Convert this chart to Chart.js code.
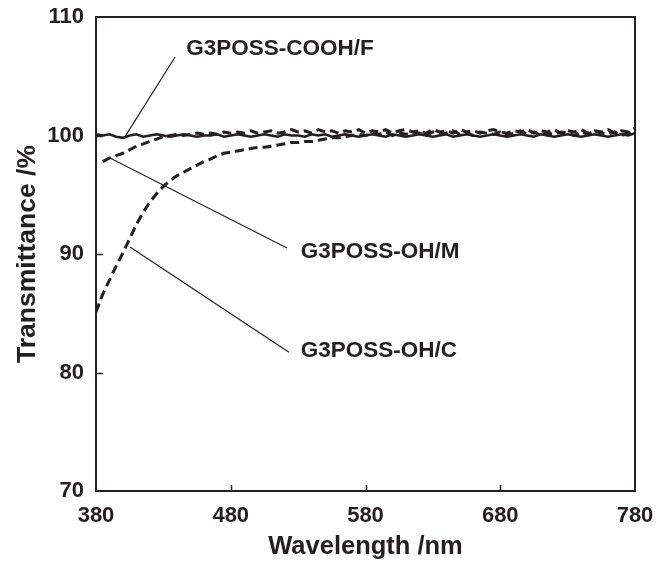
<!DOCTYPE html>
<html>
<head>
<meta charset="utf-8">
<script src="https://cdn.jsdelivr.net/npm/chart.js@4.4.1/dist/chart.umd.min.js"></script>
<style>
  html, body { margin: 0; padding: 0; background: #fff; }
  #chart { display: block; }
</style>
</head>
<body>
<canvas id="chart" width="656" height="562"></canvas>
<script>
// Wavelength grid (nm) shared by the three spectra
const wavelengths = [
  380, 385, 390, 395, 400, 405, 410, 415, 420, 425, 430, 435, 440, 445, 450, 455, 460, 465, 470, 475,
  480, 485, 490, 495, 500, 505, 510, 515, 520, 525, 530, 535, 540, 545, 550, 555, 560, 565, 570, 575,
  580, 585, 590, 595, 600, 605, 610, 615, 620, 625, 630, 635, 640, 645, 650, 655, 660, 665, 670, 675,
  680, 685, 690, 695, 700, 705, 710, 715, 720, 725, 730, 735, 740, 745, 750, 755, 760, 765, 770, 775,
  780
];

// G3POSS-COOH/F (solid)
const transF = [
  100.1, 100.0, 100.1, 99.9, 99.8, 100.0, 100.1, 99.9, 100.0, 100.1, 100.0, 99.9, 100.0, 100.1, 100.0, 99.9, 100.0, 100.0, 100.1, 99.9,
  100.0, 100.1, 100.0, 99.9, 100.0, 100.1, 100.0, 99.9, 100.1, 100.0, 100.0, 99.9, 100.1, 100.0, 100.1, 99.9, 100.0, 100.1, 100.0, 99.9,
  100.0, 100.1, 100.0, 99.9, 100.1, 100.0, 99.9, 100.0, 100.1, 100.0, 99.9, 100.0, 100.1, 99.9, 100.0, 100.1, 100.0, 99.9, 100.0, 100.1,
  100.0, 99.9, 100.0, 100.1, 100.0, 99.9, 100.1, 100.0, 99.9, 100.0, 100.1, 100.0, 99.9, 100.0, 100.1, 100.0, 99.9, 100.0, 100.1, 100.0,
  100.2
];

// G3POSS-OH/M (dashed), no reading at 380 nm
const transM = [
  null, 97.8, 98.1, 98.3, 98.5, 98.8, 99.1, 99.3, 99.5, 99.7, 99.9, 100.0, 100.1, 100.0, 100.1, 100.2, 100.1, 100.2, 100.1, 100.3,
  100.2, 100.3, 100.2, 100.4, 100.2, 100.3, 100.4, 100.2, 100.3, 100.5, 100.3, 100.4, 100.2, 100.5, 100.3, 100.4, 100.2, 100.4, 100.3, 100.5,
  100.2, 100.4, 100.3, 100.5, 100.2, 100.4, 100.5, 100.3, 100.4, 100.2, 100.5, 100.3, 100.4, 100.2, 100.5, 100.3, 100.4, 100.2, 100.4, 100.5,
  100.3, 100.2, 100.4, 100.3, 100.5, 100.2, 100.4, 100.3, 100.5, 100.2, 100.4, 100.3, 100.5, 100.2, 100.4, 100.3, 100.5, 100.2, 100.4, 100.3,
  100.6
];

// G3POSS-OH/C (dashed)
const transC = [
  85.1, 86.6, 87.8, 89.0, 90.1, 91.3, 92.5, 93.5, 94.4, 95.1, 95.7, 96.2, 96.6, 96.9, 97.2, 97.5, 97.8, 98.0, 98.3, 98.5,
  98.6, 98.7, 98.8, 98.9, 99.0, 99.0, 99.1, 99.2, 99.3, 99.4, 99.4, 99.5, 99.5, 99.6, 99.7, 99.8, 99.8, 99.9, 100.0, 100.1,
  100.0, 100.2, 100.1, 100.3, 100.0, 100.2, 100.1, 100.3, 100.2, 100.0, 100.3, 100.1, 100.2, 100.4, 100.1, 100.2, 100.0, 100.3, 100.2, 100.1,
  100.3, 100.0, 100.2, 100.4, 100.1, 100.3, 100.0, 100.2, 100.1, 100.3, 100.2, 100.0, 100.3, 100.1, 100.4, 100.2, 100.1, 100.3, 100.0, 100.2,
  100.4
];

const xTicks = [380, 480, 580, 680, 780];
const yTicks = [70, 80, 90, 100, 110];

// Callout labels: text, text anchor (nm, %), leader line start -> end (nm, %)
const labelText = ['G3POSS-COOH/F', 'G3POSS-OH/M', 'G3POSS-OH/C'];
const labelAt = [[447, 107.3], [532, 90.2], [532, 81.8]];
const leaderFrom = [[401.5, 99.9], [390.4, 98.1], [405.2, 90.6]];
const leaderTo = [[438.6, 106.6], [521.7, 90.5], [523.2, 81.7]];

const INK = '#231f20';
const FONT = '"Liberation Sans", Arial, Helvetica, sans-serif';

const toPoints = ys => wavelengths.map((x, i) => ({ x, y: ys[i] }));

// frame, inward ticks and callouts
const decorations = {
  id: 'decorations',
  afterDatasetsDraw(chart) {
    const { ctx, chartArea: a, scales: { x, y } } = chart;
    ctx.save();
    ctx.strokeStyle = INK;
    ctx.lineWidth = 2;
    ctx.strokeRect(a.left, a.top, a.right - a.left, a.bottom - a.top);

    ctx.beginPath();
    xTicks.slice(1, -1).forEach(v => {
      const px = Math.round(x.getPixelForValue(v)) + 0.5;
      ctx.moveTo(px, a.bottom);
      ctx.lineTo(px, a.bottom - 6);
    });
    yTicks.slice(1, -1).forEach(v => {
      const py = Math.round(y.getPixelForValue(v)) + 0.5;
      ctx.moveTo(a.left, py);
      ctx.lineTo(a.left + 7, py);
    });
    ctx.lineWidth = 1.5;
    ctx.stroke();

    ctx.lineWidth = 1.2;
    ctx.fillStyle = INK;
    ctx.font = `bold 22.5px ${FONT}`;
    ctx.textBaseline = 'middle';
    ctx.textAlign = 'left';
    labelText.forEach((t, i) => {
      ctx.beginPath();
      ctx.moveTo(x.getPixelForValue(leaderFrom[i][0]), y.getPixelForValue(leaderFrom[i][1]));
      ctx.lineTo(x.getPixelForValue(leaderTo[i][0]), y.getPixelForValue(leaderTo[i][1]));
      ctx.stroke();
      ctx.fillText(t, x.getPixelForValue(labelAt[i][0]), y.getPixelForValue(labelAt[i][1]));
    });
    ctx.restore();
  }
};

const lineStyle = {
  borderColor: INK,
  borderWidth: 3,
  pointRadius: 0,
  tension: 0,
  fill: false,
  spanGaps: false,
};

new Chart(document.getElementById('chart'), {
  type: 'line',
  data: {
    datasets: [
      { ...lineStyle, label: 'G3POSS-OH/C', data: toPoints(transC), borderDash: [9, 5] },
      { ...lineStyle, label: 'G3POSS-OH/M', data: toPoints(transM), borderDash: [9, 5] },
      { ...lineStyle, label: 'G3POSS-COOH/F', data: toPoints(transF), borderWidth: 2.6 },
    ],
  },
  options: {
    responsive: false,
    animation: false,
    layout: { padding: { left: 0, right: 21, top: 17, bottom: 0 } },
    plugins: { legend: { display: false }, tooltip: { enabled: false } },
    scales: {
      x: {
        type: 'linear',
        min: 380,
        max: 780,
        afterBuildTicks: s => { s.ticks = xTicks.map(value => ({ value })); },
        afterFit: s => { s.height = 71; s.paddingLeft = 0; s.paddingRight = 0; },
        grid: { display: false, drawTicks: false },
        border: { display: false },
        ticks: { color: INK, padding: 12, font: { family: FONT, size: 22, weight: 'bold' }, maxRotation: 0 },
        title: {
          display: true,
          text: 'Wavelength /nm',
          color: INK,
          font: { family: FONT, size: 25.5, weight: 'bold', lineHeight: 1.2 },
          padding: { top: 0, bottom: 0 },
        },
      },
      y: {
        min: 70,
        max: 110,
        afterBuildTicks: s => { s.ticks = yTicks.map(value => ({ value })); },
        afterFit: s => { s.width = 96; s.paddingTop = 0; s.paddingBottom = 0; },
        grid: { display: false, drawTicks: false },
        border: { display: false },
        ticks: { color: INK, padding: 12, font: { family: FONT, size: 22, weight: 'bold' } },
        title: {
          display: true,
          text: 'Transmittance /%',
          color: INK,
          font: { family: FONT, size: 26.5, weight: 'bold', lineHeight: 1.2 },
          padding: { top: 12, bottom: 0 },
        },
      },
    },
  },
  plugins: [decorations],
});
</script>
</body>
</html>
